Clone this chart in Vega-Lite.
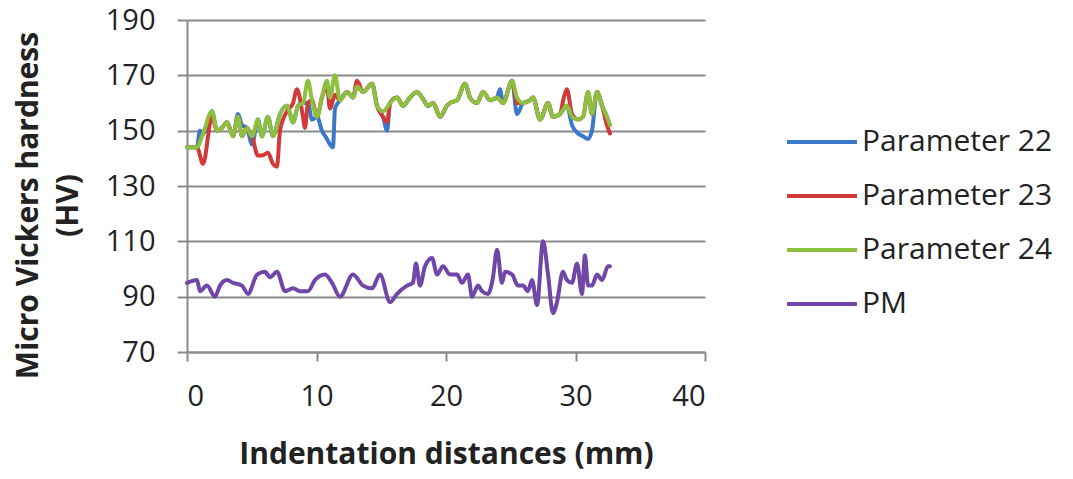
{
  "$schema": "https://vega.github.io/schema/vega-lite/v6.json",
  "autosize": {"type": "none"},
  "width": 518,
  "height": 332,
  "padding": {"left": 187, "top": 20, "right": 368, "bottom": 127},
  "background": "white",
  "config": {
    "font": "Open Sans",
    "view": {"stroke": null},
    "axis": {
      "labelFont": "Open Sans",
      "labelFontSize": 29,
      "labelColor": "#222222",
      "titleFont": "Open Sans",
      "titleFontSize": 30,
      "titleFontWeight": "bold",
      "titleColor": "#222222",
      "domainColor": "#8a8a8a",
      "domainWidth": 2,
      "tickColor": "#8a8a8a",
      "tickWidth": 2,
      "gridColor": "#8a8a8a",
      "gridWidth": 2
    }
  },
  "data": {
    "values": [
      {"s":"Parameter 22","x":0,"y":144},{"s":"Parameter 22","x":0.77,"y":144},{"s":"Parameter 22","x":1.0,"y":150},{"s":"Parameter 22","x":1.24,"y":149},{"s":"Parameter 22","x":1.93,"y":157},{"s":"Parameter 22","x":2.32,"y":150},{"s":"Parameter 22","x":2.7,"y":151},{"s":"Parameter 22","x":3.09,"y":153},{"s":"Parameter 22","x":3.55,"y":148},{"s":"Parameter 22","x":3.94,"y":156},{"s":"Parameter 22","x":4.25,"y":152},{"s":"Parameter 22","x":4.63,"y":151},{"s":"Parameter 22","x":5.02,"y":145},{"s":"Parameter 22","x":5.48,"y":154},{"s":"Parameter 22","x":5.79,"y":148},{"s":"Parameter 22","x":6.25,"y":155},{"s":"Parameter 22","x":6.64,"y":148},{"s":"Parameter 22","x":7.18,"y":156},{"s":"Parameter 22","x":7.72,"y":159},{"s":"Parameter 22","x":8.19,"y":153},{"s":"Parameter 22","x":8.57,"y":159},{"s":"Parameter 22","x":8.96,"y":160},{"s":"Parameter 22","x":9.34,"y":160},{"s":"Parameter 22","x":9.65,"y":154},{"s":"Parameter 22","x":10.04,"y":155},{"s":"Parameter 22","x":10.42,"y":150},{"s":"Parameter 22","x":10.81,"y":147},{"s":"Parameter 22","x":11.04,"y":145},{"s":"Parameter 22","x":11.27,"y":144},{"s":"Parameter 22","x":11.43,"y":158},{"s":"Parameter 22","x":11.81,"y":161},{"s":"Parameter 22","x":12.36,"y":164},{"s":"Parameter 22","x":12.82,"y":162},{"s":"Parameter 22","x":13.13,"y":166},{"s":"Parameter 22","x":13.59,"y":164},{"s":"Parameter 22","x":14.29,"y":167},{"s":"Parameter 22","x":14.67,"y":159},{"s":"Parameter 22","x":15.14,"y":155},{"s":"Parameter 22","x":15.45,"y":150},{"s":"Parameter 22","x":15.68,"y":160},{"s":"Parameter 22","x":16.22,"y":162},{"s":"Parameter 22","x":16.68,"y":159},{"s":"Parameter 22","x":17.22,"y":162},{"s":"Parameter 22","x":17.76,"y":164},{"s":"Parameter 22","x":18.15,"y":162},{"s":"Parameter 22","x":18.61,"y":159},{"s":"Parameter 22","x":19.0,"y":160},{"s":"Parameter 22","x":19.54,"y":155},{"s":"Parameter 22","x":20.08,"y":159},{"s":"Parameter 22","x":20.31,"y":160},{"s":"Parameter 22","x":20.85,"y":161},{"s":"Parameter 22","x":21.47,"y":167},{"s":"Parameter 22","x":21.85,"y":162},{"s":"Parameter 22","x":22.39,"y":160},{"s":"Parameter 22","x":22.86,"y":164},{"s":"Parameter 22","x":23.4,"y":161},{"s":"Parameter 22","x":23.94,"y":162},{"s":"Parameter 22","x":24.17,"y":165},{"s":"Parameter 22","x":24.4,"y":160},{"s":"Parameter 22","x":25.1,"y":168},{"s":"Parameter 22","x":25.48,"y":156},{"s":"Parameter 22","x":25.95,"y":160},{"s":"Parameter 22","x":26.49,"y":161},{"s":"Parameter 22","x":26.72,"y":162},{"s":"Parameter 22","x":27.26,"y":154},{"s":"Parameter 22","x":27.88,"y":160},{"s":"Parameter 22","x":28.26,"y":155},{"s":"Parameter 22","x":28.8,"y":156},{"s":"Parameter 22","x":29.34,"y":159},{"s":"Parameter 22","x":29.73,"y":152},{"s":"Parameter 22","x":30.19,"y":149},{"s":"Parameter 22","x":30.58,"y":148},{"s":"Parameter 22","x":30.97,"y":147},{"s":"Parameter 22","x":31.27,"y":150},{"s":"Parameter 22","x":31.66,"y":164},{"s":"Parameter 22","x":32.05,"y":159},{"s":"Parameter 22","x":32.43,"y":155},{"s":"Parameter 22","x":32.66,"y":152},

      {"s":"Parameter 23","x":0,"y":144},{"s":"Parameter 23","x":0.77,"y":144},{"s":"Parameter 23","x":1.24,"y":138},{"s":"Parameter 23","x":1.93,"y":155},{"s":"Parameter 23","x":2.32,"y":150},{"s":"Parameter 23","x":2.7,"y":151},{"s":"Parameter 23","x":3.09,"y":153},{"s":"Parameter 23","x":3.55,"y":148},{"s":"Parameter 23","x":3.94,"y":155},{"s":"Parameter 23","x":4.25,"y":148},{"s":"Parameter 23","x":4.63,"y":151},{"s":"Parameter 23","x":5.02,"y":148},{"s":"Parameter 23","x":5.48,"y":141},{"s":"Parameter 23","x":5.79,"y":141},{"s":"Parameter 23","x":6.25,"y":142},{"s":"Parameter 23","x":6.64,"y":138},{"s":"Parameter 23","x":6.95,"y":137},{"s":"Parameter 23","x":7.18,"y":150},{"s":"Parameter 23","x":7.72,"y":157},{"s":"Parameter 23","x":8.19,"y":160},{"s":"Parameter 23","x":8.49,"y":165},{"s":"Parameter 23","x":8.96,"y":155},{"s":"Parameter 23","x":9.11,"y":151},{"s":"Parameter 23","x":9.34,"y":160},{"s":"Parameter 23","x":9.65,"y":161},{"s":"Parameter 23","x":10.04,"y":155},{"s":"Parameter 23","x":10.42,"y":162},{"s":"Parameter 23","x":10.81,"y":166},{"s":"Parameter 23","x":11.04,"y":158},{"s":"Parameter 23","x":11.43,"y":163},{"s":"Parameter 23","x":11.81,"y":161},{"s":"Parameter 23","x":12.36,"y":164},{"s":"Parameter 23","x":12.82,"y":162},{"s":"Parameter 23","x":13.13,"y":168},{"s":"Parameter 23","x":13.59,"y":164},{"s":"Parameter 23","x":14.29,"y":167},{"s":"Parameter 23","x":14.67,"y":159},{"s":"Parameter 23","x":15.14,"y":155},{"s":"Parameter 23","x":15.45,"y":153},{"s":"Parameter 23","x":15.68,"y":160},{"s":"Parameter 23","x":16.22,"y":162},{"s":"Parameter 23","x":16.68,"y":159},{"s":"Parameter 23","x":17.22,"y":162},{"s":"Parameter 23","x":17.76,"y":164},{"s":"Parameter 23","x":18.15,"y":162},{"s":"Parameter 23","x":18.61,"y":159},{"s":"Parameter 23","x":19.0,"y":160},{"s":"Parameter 23","x":19.54,"y":155},{"s":"Parameter 23","x":20.08,"y":159},{"s":"Parameter 23","x":20.31,"y":160},{"s":"Parameter 23","x":20.85,"y":161},{"s":"Parameter 23","x":21.47,"y":167},{"s":"Parameter 23","x":21.85,"y":162},{"s":"Parameter 23","x":22.39,"y":160},{"s":"Parameter 23","x":22.86,"y":164},{"s":"Parameter 23","x":23.4,"y":161},{"s":"Parameter 23","x":23.94,"y":162},{"s":"Parameter 23","x":24.4,"y":160},{"s":"Parameter 23","x":25.1,"y":168},{"s":"Parameter 23","x":25.48,"y":160},{"s":"Parameter 23","x":25.95,"y":160},{"s":"Parameter 23","x":26.49,"y":161},{"s":"Parameter 23","x":26.72,"y":162},{"s":"Parameter 23","x":27.26,"y":154},{"s":"Parameter 23","x":27.88,"y":160},{"s":"Parameter 23","x":28.26,"y":155},{"s":"Parameter 23","x":28.8,"y":156},{"s":"Parameter 23","x":29.1,"y":162},{"s":"Parameter 23","x":29.34,"y":165},{"s":"Parameter 23","x":29.73,"y":156},{"s":"Parameter 23","x":30.19,"y":154},{"s":"Parameter 23","x":30.58,"y":155},{"s":"Parameter 23","x":30.97,"y":164},{"s":"Parameter 23","x":31.27,"y":156},{"s":"Parameter 23","x":31.66,"y":164},{"s":"Parameter 23","x":32.05,"y":159},{"s":"Parameter 23","x":32.43,"y":152},{"s":"Parameter 23","x":32.66,"y":149},

      {"s":"Parameter 24","x":0,"y":144},{"s":"Parameter 24","x":0.77,"y":144},{"s":"Parameter 24","x":1.24,"y":149},{"s":"Parameter 24","x":1.93,"y":157},{"s":"Parameter 24","x":2.32,"y":150},{"s":"Parameter 24","x":2.7,"y":151},{"s":"Parameter 24","x":3.09,"y":153},{"s":"Parameter 24","x":3.55,"y":148},{"s":"Parameter 24","x":3.94,"y":155},{"s":"Parameter 24","x":4.25,"y":148},{"s":"Parameter 24","x":4.63,"y":151},{"s":"Parameter 24","x":5.02,"y":148},{"s":"Parameter 24","x":5.48,"y":154},{"s":"Parameter 24","x":5.79,"y":148},{"s":"Parameter 24","x":6.25,"y":155},{"s":"Parameter 24","x":6.64,"y":148},{"s":"Parameter 24","x":7.18,"y":156},{"s":"Parameter 24","x":7.72,"y":159},{"s":"Parameter 24","x":8.19,"y":153},{"s":"Parameter 24","x":8.57,"y":159},{"s":"Parameter 24","x":8.96,"y":160},{"s":"Parameter 24","x":9.34,"y":168},{"s":"Parameter 24","x":9.65,"y":161},{"s":"Parameter 24","x":10.04,"y":155},{"s":"Parameter 24","x":10.42,"y":162},{"s":"Parameter 24","x":10.81,"y":168},{"s":"Parameter 24","x":11.04,"y":162},{"s":"Parameter 24","x":11.43,"y":170},{"s":"Parameter 24","x":11.81,"y":161},{"s":"Parameter 24","x":12.36,"y":164},{"s":"Parameter 24","x":12.82,"y":162},{"s":"Parameter 24","x":13.13,"y":166},{"s":"Parameter 24","x":13.59,"y":164},{"s":"Parameter 24","x":14.29,"y":167},{"s":"Parameter 24","x":14.67,"y":159},{"s":"Parameter 24","x":15.14,"y":157},{"s":"Parameter 24","x":15.68,"y":160},{"s":"Parameter 24","x":16.22,"y":162},{"s":"Parameter 24","x":16.68,"y":159},{"s":"Parameter 24","x":17.22,"y":162},{"s":"Parameter 24","x":17.76,"y":164},{"s":"Parameter 24","x":18.15,"y":162},{"s":"Parameter 24","x":18.61,"y":159},{"s":"Parameter 24","x":19.0,"y":160},{"s":"Parameter 24","x":19.54,"y":155},{"s":"Parameter 24","x":20.08,"y":159},{"s":"Parameter 24","x":20.31,"y":160},{"s":"Parameter 24","x":20.85,"y":161},{"s":"Parameter 24","x":21.47,"y":167},{"s":"Parameter 24","x":21.85,"y":162},{"s":"Parameter 24","x":22.39,"y":160},{"s":"Parameter 24","x":22.86,"y":164},{"s":"Parameter 24","x":23.4,"y":161},{"s":"Parameter 24","x":23.94,"y":162},{"s":"Parameter 24","x":24.4,"y":160},{"s":"Parameter 24","x":25.1,"y":168},{"s":"Parameter 24","x":25.48,"y":162},{"s":"Parameter 24","x":25.95,"y":160},{"s":"Parameter 24","x":26.49,"y":161},{"s":"Parameter 24","x":26.72,"y":162},{"s":"Parameter 24","x":27.26,"y":154},{"s":"Parameter 24","x":27.88,"y":160},{"s":"Parameter 24","x":28.26,"y":155},{"s":"Parameter 24","x":28.8,"y":156},{"s":"Parameter 24","x":29.34,"y":159},{"s":"Parameter 24","x":29.73,"y":155},{"s":"Parameter 24","x":30.19,"y":154},{"s":"Parameter 24","x":30.58,"y":155},{"s":"Parameter 24","x":30.97,"y":164},{"s":"Parameter 24","x":31.27,"y":156},{"s":"Parameter 24","x":31.66,"y":164},{"s":"Parameter 24","x":32.05,"y":159},{"s":"Parameter 24","x":32.43,"y":155},{"s":"Parameter 24","x":32.66,"y":152},

      {"s":"PM","x":0,"y":95},{"s":"PM","x":0.77,"y":96},{"s":"PM","x":1.0,"y":92},{"s":"PM","x":1.54,"y":94},{"s":"PM","x":2.16,"y":90},{"s":"PM","x":2.55,"y":94},{"s":"PM","x":3.09,"y":96},{"s":"PM","x":3.55,"y":95},{"s":"PM","x":4.25,"y":94},{"s":"PM","x":4.71,"y":91},{"s":"PM","x":5.41,"y":98},{"s":"PM","x":6.02,"y":99},{"s":"PM","x":6.41,"y":97},{"s":"PM","x":6.95,"y":99},{"s":"PM","x":7.57,"y":92},{"s":"PM","x":8.19,"y":93},{"s":"PM","x":8.73,"y":92},{"s":"PM","x":9.34,"y":92},{"s":"PM","x":9.88,"y":96},{"s":"PM","x":10.66,"y":98},{"s":"PM","x":11.2,"y":95},{"s":"PM","x":11.81,"y":90},{"s":"PM","x":12.82,"y":98},{"s":"PM","x":13.59,"y":94},{"s":"PM","x":14.29,"y":93},{"s":"PM","x":14.9,"y":98},{"s":"PM","x":15.68,"y":88},{"s":"PM","x":16.22,"y":91},{"s":"PM","x":16.99,"y":94},{"s":"PM","x":17.45,"y":95},{"s":"PM","x":17.68,"y":102},{"s":"PM","x":17.99,"y":94},{"s":"PM","x":18.38,"y":101},{"s":"PM","x":18.92,"y":104},{"s":"PM","x":19.31,"y":98},{"s":"PM","x":19.77,"y":101},{"s":"PM","x":20.31,"y":98},{"s":"PM","x":20.85,"y":98},{"s":"PM","x":21.24,"y":95},{"s":"PM","x":21.7,"y":98},{"s":"PM","x":22.01,"y":90},{"s":"PM","x":22.47,"y":94},{"s":"PM","x":22.78,"y":92},{"s":"PM","x":23.24,"y":91},{"s":"PM","x":23.63,"y":97},{"s":"PM","x":23.94,"y":107},{"s":"PM","x":24.32,"y":95},{"s":"PM","x":24.56,"y":99},{"s":"PM","x":25.1,"y":98},{"s":"PM","x":25.56,"y":94},{"s":"PM","x":25.95,"y":94},{"s":"PM","x":26.33,"y":92},{"s":"PM","x":26.64,"y":96},{"s":"PM","x":27.03,"y":87},{"s":"PM","x":27.49,"y":110},{"s":"PM","x":27.88,"y":98},{"s":"PM","x":28.26,"y":84},{"s":"PM","x":28.57,"y":88},{"s":"PM","x":29.03,"y":99},{"s":"PM","x":29.34,"y":96},{"s":"PM","x":29.73,"y":95},{"s":"PM","x":30.12,"y":102},{"s":"PM","x":30.5,"y":91},{"s":"PM","x":30.73,"y":105},{"s":"PM","x":30.97,"y":94},{"s":"PM","x":31.27,"y":94},{"s":"PM","x":31.66,"y":98},{"s":"PM","x":32.05,"y":96},{"s":"PM","x":32.51,"y":101},{"s":"PM","x":32.66,"y":101}
    ]
  },
  "mark": {"type": "line", "strokeWidth": 4, "strokeJoin": "round", "strokeCap": "round", "interpolate": "monotone"},
  "encoding": {
    "x": {
      "field": "x", "type": "quantitative",
      "scale": {"domain": [0, 40], "nice": false, "zero": false},
      "axis": {"values": [0, 10, 20, 30, 40], "grid": false, "tickSize": 9, "labelPadding": 21, "title": "Indentation distances (mm)", "titlePadding": 28}
    },
    "y": {
      "field": "y", "type": "quantitative",
      "scale": {"domain": [70, 190], "nice": false, "zero": false},
      "axis": {"values": [70, 90, 110, 130, 150, 170, 190], "grid": true, "tickSize": 10, "labelPadding": 22, "title": ["Micro Vickers hardness", "(HV)"], "titlePadding": 22, "titleLineHeight": 40, "titleY": 185}
    },
    "color": {
      "field": "s", "type": "nominal",
      "scale": {"domain": ["Parameter 22", "Parameter 23", "Parameter 24", "PM"], "range": ["#3A78C9", "#D23A3A", "#8DC03F", "#7046A8"]},
      "legend": {
        "title": null, "orient": "none", "legendX": 598, "legendY": 85,
        "symbolType": "stroke", "symbolSize": 4900, "symbolStrokeWidth": 4,
        "labelFont": "Open Sans", "labelFontSize": 30, "labelColor": "#222222", "labelLimit": 400,
        "labelOffset": 3, "rowPadding": 2
      }
    }
  }
}
